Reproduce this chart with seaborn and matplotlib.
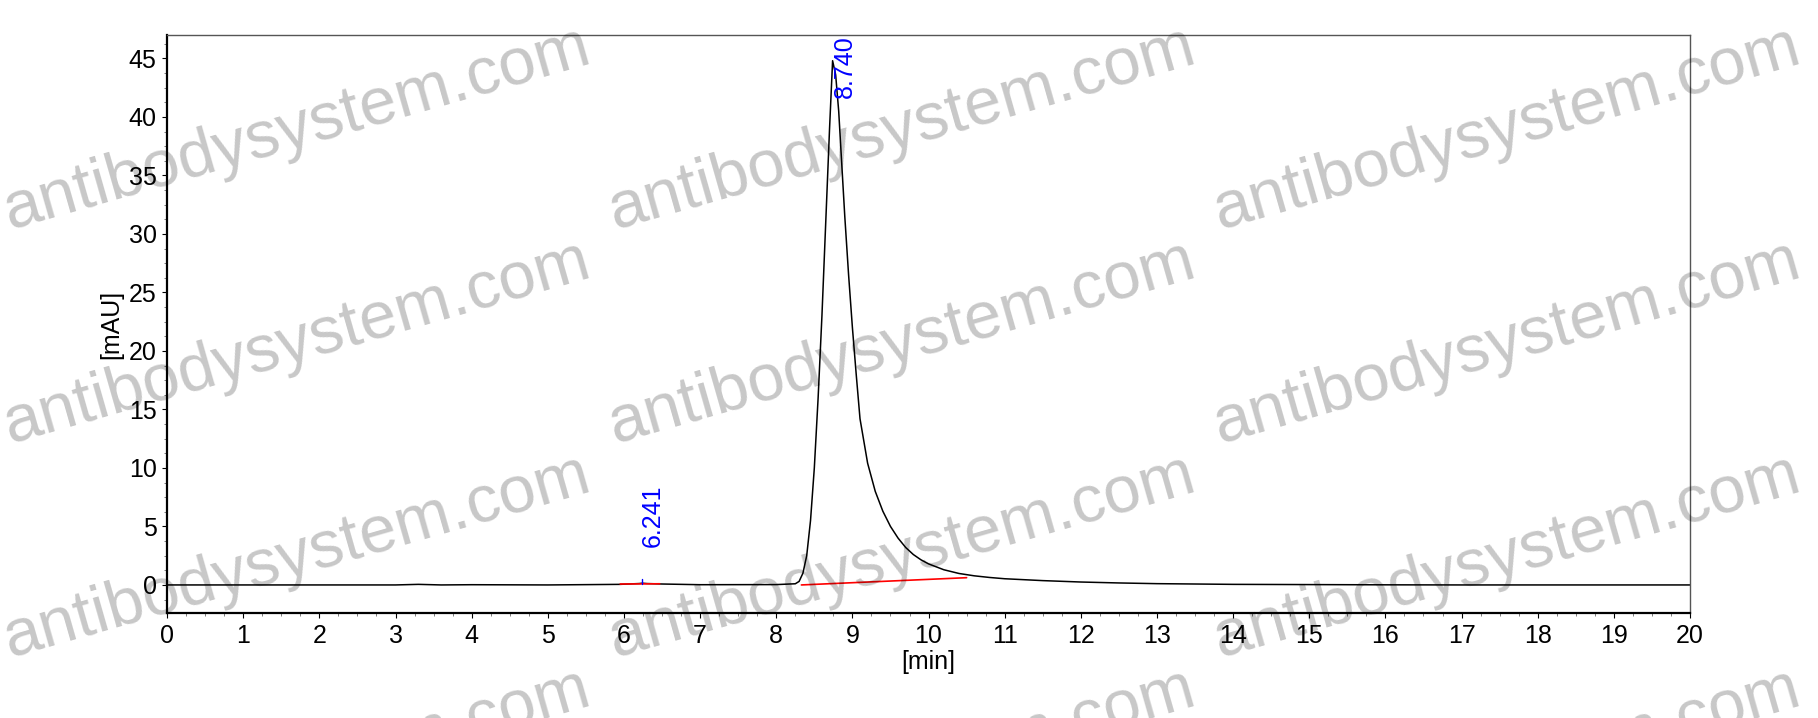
import matplotlib
matplotlib.use("Agg")
import matplotlib.pyplot as plt
import seaborn as sns
import pandas as pd
from matplotlib.ticker import MultipleLocator, AutoMinorLocator

# signal (min, mAU)
time_min = [0.0, 3.0, 3.3, 3.6, 4.0, 5.0, 5.95, 6.2, 6.24, 6.3, 6.5, 7.0, 8.0, 8.25,
            8.3, 8.35, 8.4, 8.45, 8.5, 8.55, 8.6, 8.65, 8.7, 8.74, 8.78, 8.82,
            8.86, 8.9, 8.95, 9.0, 9.05, 9.1, 9.2, 9.3, 9.4, 9.5, 9.6, 9.7, 9.8,
            9.9, 10.0, 10.2, 10.4, 10.6, 10.8, 11.0, 11.5, 12.0, 12.5, 13.0,
            13.5, 14.0, 15.0, 16.0, 17.0, 20.0]
signal_mau = [0.0, 0.0, 0.05, 0.0, 0.02, 0.0, 0.05, 0.12, 0.15, 0.12, 0.08, 0.02, 0.03, 0.1,
              0.3, 1.0, 2.5, 5.5, 10.0, 16.0, 23.0, 31.0, 39.0, 44.8, 43.6, 40.5,
              36.0, 31.5, 26.5, 22.0, 18.0, 14.2, 10.4, 8.0, 6.3, 5.0, 4.0, 3.2, 2.6,
              2.15, 1.8, 1.3, 0.98, 0.78, 0.64, 0.53, 0.37, 0.25, 0.17, 0.11,
              0.08, 0.05, 0.03, 0.01, 0.0, 0.0]

# integration baselines (red)
base1_t = [5.95, 6.47]
base1_y = [0.08, 0.1]
base2_t = [8.33, 10.5]
base2_y = [0.0, 0.62]

# peak labels
peak_rt = [6.241, 8.740]
peak_lbl = ["6.241", "8.740"]

df = pd.DataFrame({"t": time_min, "y": signal_mau})

sns.set_style("ticks")
plt.rcParams["font.family"] = ["Liberation Sans", "DejaVu Sans"]

fig = plt.figure(figsize=(18.18, 7.18), dpi=100)
ax = fig.add_axes([0.0919, 0.1462, 0.9296 - 0.0919, 0.9513 - 0.1462])

sns.lineplot(data=df, x="t", y="y", ax=ax, color="black", linewidth=1.1,
             estimator=None, sort=False)
ax.plot(base1_t, base1_y, color="red", linewidth=1.2)
ax.plot(base2_t, base2_y, color="red", linewidth=1.2)

# retention time markers + labels
ax.plot([peak_rt[0], peak_rt[0]], [0.1, 0.5], color="blue", linewidth=1)
ax.text(6.38, 3.2, peak_lbl[0], rotation=90, color="blue", fontsize=18,
        ha="center", va="bottom")
ax.text(8.90, 47.0, peak_lbl[1], rotation=90, color="blue", fontsize=18,
        ha="center", va="top")

ax.set_xlim(0, 20)
ax.set_ylim(-2.4, 47.0)
ax.xaxis.set_major_locator(MultipleLocator(1))
ax.xaxis.set_minor_locator(AutoMinorLocator(4))
ax.yaxis.set_major_locator(MultipleLocator(5))
ax.yaxis.set_minor_locator(AutoMinorLocator(4))
ax.tick_params(which="major", length=3.6, width=0.8, labelsize=18, pad=4,
               colors="black")
ax.tick_params(which="minor", length=2, width=0.6, color="#666666")
ax.set_xlabel("[min]", fontsize=18, labelpad=2, color="black")
ax.set_ylabel("[mAU]", fontsize=18, labelpad=4, color="black")

for side in ["left", "bottom"]:
    ax.spines[side].set_linewidth(1.6)
    ax.spines[side].set_color("black")
for side in ["top", "right"]:
    ax.spines[side].set_visible(True)
    ax.spines[side].set_linewidth(1.0)
    ax.spines[side].set_color("#555555")

# watermark grid
wm_x = [0.163, 0.496, 0.829]
wm_y = [0.819, 0.521, 0.223, -0.075]
for wx in wm_x:
    for wy in wm_y:
        fig.text(wx, wy, "antibodysystem.com", fontsize=48, color="black",
                 alpha=0.22, rotation=16, ha="center", va="center",
                 rotation_mode="anchor", zorder=10)

fig.savefig("out.png", dpi=100)
